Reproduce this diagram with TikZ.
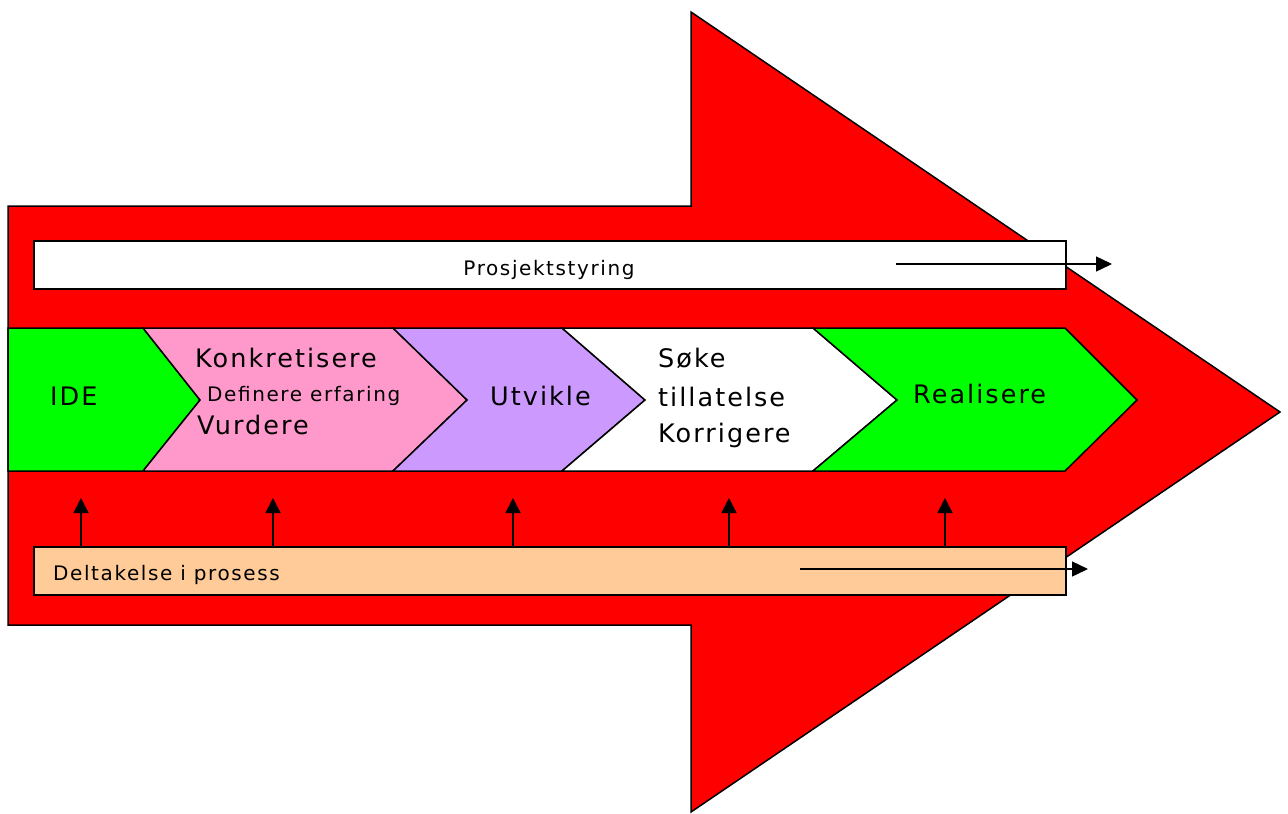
\documentclass[tikz,border=0pt]{standalone}
\usepackage{fontspec}
\newfontfamily\vf[LetterSpace=8]{DejaVu Sans}
\usetikzlibrary{arrows.meta}
\definecolor{bigred}{HTML}{FF0000}
\definecolor{cgreen}{HTML}{00FF00}
\definecolor{cpink}{HTML}{FF99CC}
\definecolor{cpurple}{HTML}{CC99FF}
\definecolor{cpeach}{HTML}{FFCC99}
\tikzset{
  outl/.style={draw=black, line width=1.5pt, line join=miter},
  chev/.style={outl},
  bar/.style={outl, rectangle, inner sep=0pt, anchor=north west},
  big/.style={inner sep=0pt, anchor=base west, font=\vf\fontsize{25.5}{30}\selectfont},
  mid/.style={inner sep=0pt, anchor=base west, font=\vf\fontsize{20}{24}\selectfont},
  uparr/.style={line width=1.6pt, -{Triangle[width=15pt,length=15pt]}},
  sidearr/.style={line width=1.4pt, -{Triangle[width=15pt,length=16pt]}}
}
\begin{document}
\begin{tikzpicture}[x=1pt,y=-1pt]
\useasboundingbox (0,0) rectangle (1288,814);
% big red arrow
\fill[bigred] (8,206) -- (691,206) -- (691,12) -- (1280,412) -- (691,812) -- (691,625) -- (8,625) -- cycle;
\draw[outl] (8,206) -- (691,206) -- (691,12) -- (1280,412) -- (691,812) -- (691,625) -- (8,625) -- cycle;
% top bar
\node[bar, fill=white, minimum width=1032pt, minimum height=48pt] (ps) at (33,240) {};
\node[mid, anchor=base] (pstxt) at (549,275) {Prosjektstyring};
\coordinate (psend) at (1112,264);
\coordinate (psstart) at (896,264);
\draw[sidearr] (psstart) -- (psend);
% chevrons
\draw[chev, fill=cgreen] (8,328) -- (143,328) -- (200,400) -- (143,471) -- (8,471) -- cycle;
\draw[chev, fill=cpink] (143,328) -- (393,328) -- (467,400) -- (393,471) -- (143,471) -- (200,400) -- cycle;
\draw[chev, fill=cpurple] (393,328) -- (562,328) -- (645,400) -- (562,471) -- (393,471) -- (467,400) -- cycle;
\draw[chev, fill=white] (562,328) -- (813,328) -- (897,400) -- (813,471) -- (562,471) -- (645,400) -- cycle;
\draw[chev, fill=cgreen] (813,328) -- (1065,328) -- (1137,400) -- (1065,471) -- (813,471) -- (897,400) -- cycle;
% labels
\node[big] (ide) at (50,405) {IDE};
\node[big] (konk) at (195,367) {Konkretisere};
\node[mid] (def) at (207,401) {Definere erfaring};
\node[big] (vur) at (197,434) {Vurdere};
\node[big] (utv) at (490,405) {Utvikle};
\node[big] (soke) at (658,367) {Søke};
\node[big] (till) at (658,406) {tillatelse};
\node[big] (korr) at (658,442) {Korrigere};
\node[big] (real) at (913,403) {Realisere};
% bottom bar
\node[bar, fill=cpeach, minimum width=1032pt, minimum height=48pt] (dp) at (33,546) {};
\node[mid] (dptxt) at (53,580) {Deltakelse i prosess};
\coordinate (dpstart) at (800,569);
\coordinate (dpend) at (1088,569);
\draw[sidearr] (dpstart) -- (dpend);
% upward arrows
\foreach \n/\x in {a/81,b/273,c/513,d/729,e/945}{
  \coordinate (up\n) at (\x,498);
  \draw[uparr] (up\n |- dp.north) -- (up\n);
}
\end{tikzpicture}
\end{document}
